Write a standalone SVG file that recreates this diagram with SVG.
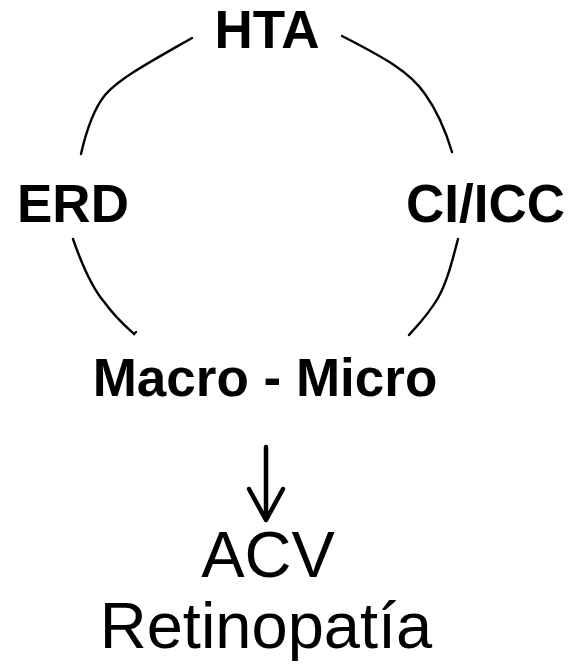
<svg xmlns="http://www.w3.org/2000/svg" width="568" height="665" viewBox="0 0 568 665">
  <style>
    .lbl { font-family: "Liberation Sans", Arial, sans-serif; font-weight: bold; font-size: 53px; fill: #000; }
    .out { font-family: "Liberation Sans", Arial, sans-serif; font-size: 65px; fill: #000; text-anchor: middle; }
    .arc { fill: none; stroke: #000; stroke-width: 2.4; stroke-linecap: round; }
    .arrow { fill: none; stroke: #000; stroke-width: 4.5; stroke-linecap: round; stroke-linejoin: round; }
  </style>
  <rect width="568" height="665" fill="#fff"/>

  <g id="connectors">
    <path class="arc" d="M192,38 C150,62 120,78 105,95 C93,110 86,132 81,154"/>
    <path class="arc" d="M342,36 C385,58 410,72 425,94 C438,112 446,132 452,152"/>
    <path class="arc" d="M73,239 C82,265 92,288 105,303 C115,317 124,325 134,334 L136,332"/>
    <path class="arc" d="M458,239 C452,262 447,282 438,298 C428,315 418,325 409,335"/>
    <path class="arrow" d="M266,447 L266,520 M249,489 L266,520 L283,489"/>
  </g>

  <g id="node-hta"><text class="lbl" x="267" y="48" text-anchor="middle">HTA</text></g>
  <g id="node-erd"><text class="lbl" x="17" y="222">ERD</text></g>
  <g id="node-cicc"><text class="lbl" x="565" y="222" text-anchor="end">CI/ICC</text></g>
  <g id="node-macro-micro"><text class="lbl" x="265" y="396" text-anchor="middle">Macro - Micro</text></g>
  <g id="node-outcome">
    <text class="out" x="268" y="577">ACV</text>
    <text class="out" x="266" y="648">Retinopatía</text>
  </g>
</svg>
